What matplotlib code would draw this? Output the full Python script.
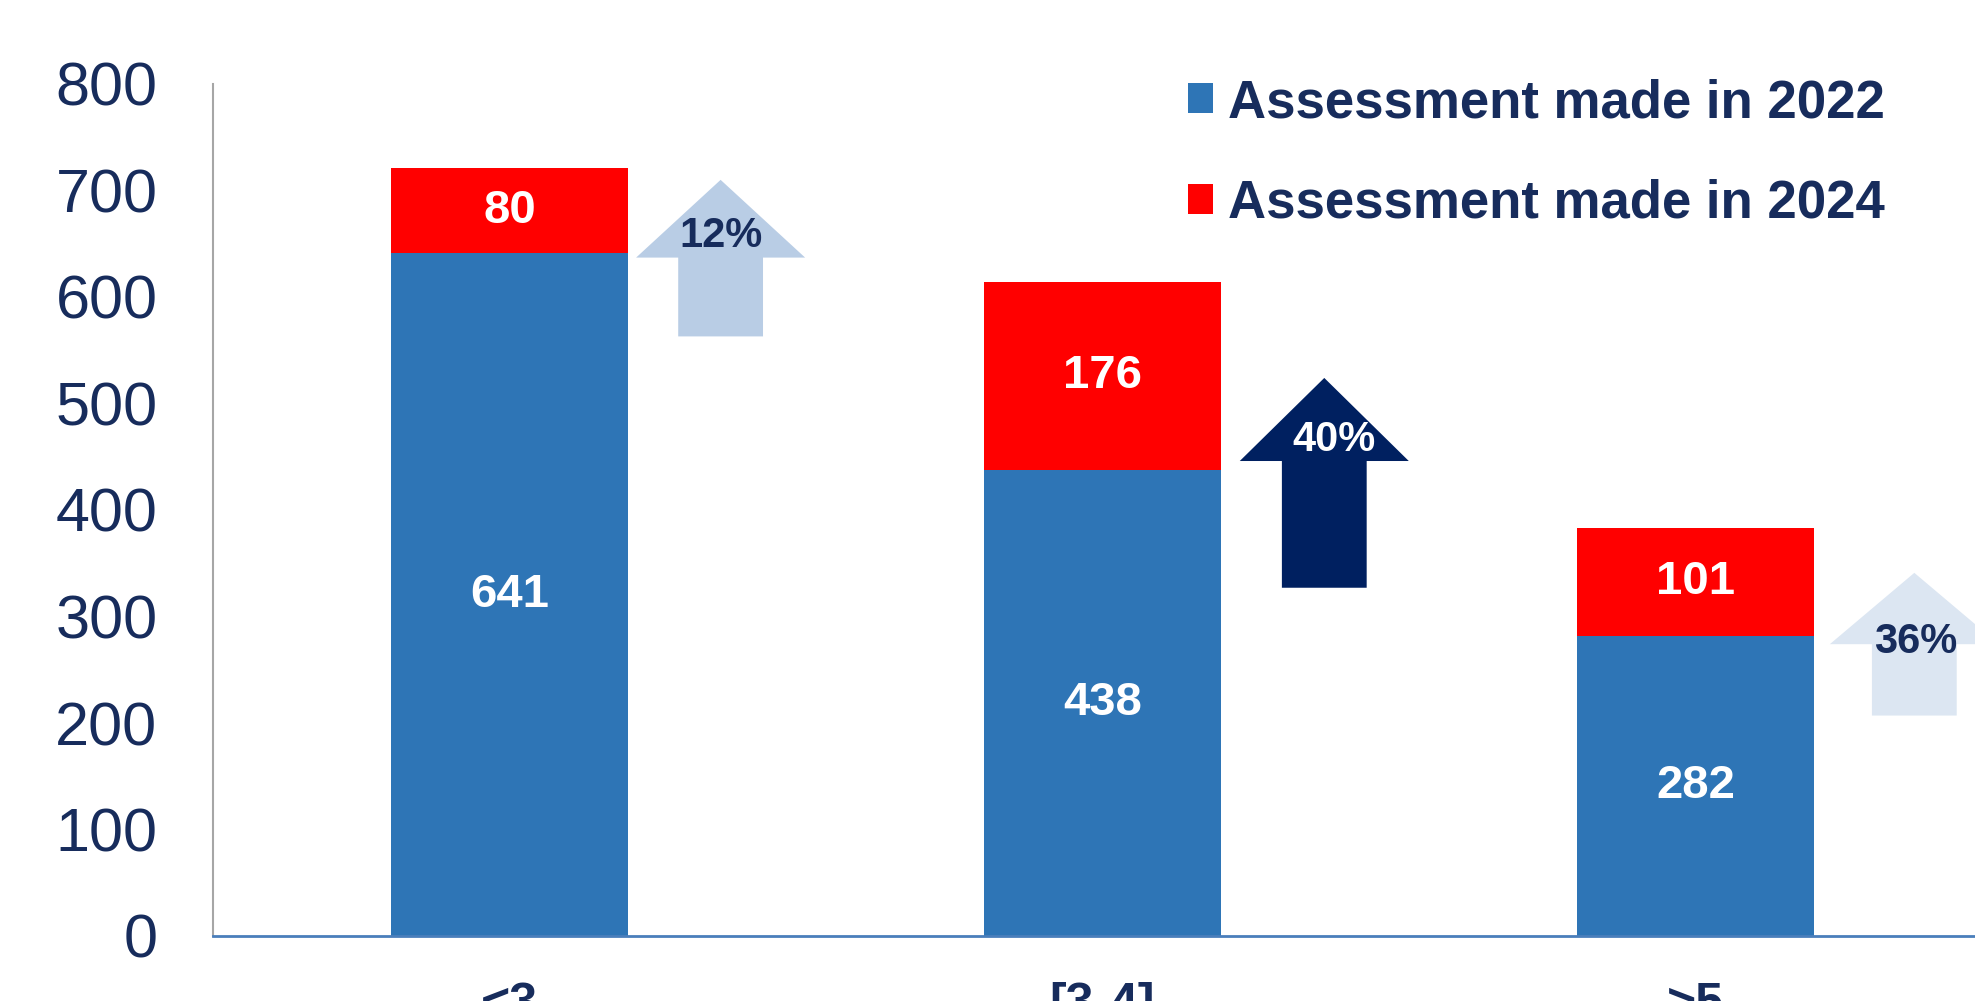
import matplotlib
matplotlib.use("Agg")
import matplotlib.pyplot as plt
from matplotlib.patches import FancyArrow, Patch

plt.rcParams['font.family'] = ['Liberation Sans', 'DejaVu Sans']

# ---- data ----
categories = ["<3", "[3-4]", ">5"]
values_2022 = [641, 438, 282]
values_2024 = [80, 176, 101]
series_names = ["Assessment made in 2022", "Assessment made in 2024"]
yticks = [0, 100, 200, 300, 400, 500, 600, 700, 800]

# ---- style ----
NAVY = "#172C5C"
BLUE = "#2E75B6"
RED = "#FF0000"
arrow_colors = ["#B9CDE5", "#002060", "#DCE6F2"]
arrow_text_colors = [NAVY, "white", NAVY]

# arrow layout (x offset from category, bottom, tip, text y)
arrow_dx = [0.356, 0.374, 0.369]
arrow_bottom = [563, 327, 207]
arrow_tip = [710, 524, 341]
arrow_headlen = [73, 78, 67]
arrow_text_y = [657, 466, 276]
arrow_text_dx = [0.356, 0.391, 0.371]

fig = plt.figure(figsize=(19.75, 10.01), dpi=100)
ax = fig.add_axes([213 / 1975, 1 - 936 / 1001, (1992 - 213) / 1975, (936 - 84) / 1001])

x = list(range(len(categories)))
ax.bar(x, values_2022, width=0.4, color=BLUE, label=series_names[0], zorder=2)
ax.bar(x, values_2024, width=0.4, bottom=values_2022, color=RED,
       label=series_names[1], zorder=2)

for i, (a, b) in enumerate(zip(values_2022, values_2024)):
    ax.text(i, a / 2, f"{a}", ha="center", va="center", color="white",
            fontsize=34, fontweight="bold", zorder=3)
    ax.text(i, a + b / 2, f"{b}", ha="center", va="center", color="white",
            fontsize=34, fontweight="bold", zorder=3)
    # growth arrows
    xa = i + arrow_dx[i]
    arr = FancyArrow(xa, arrow_bottom[i], 0, arrow_tip[i] - arrow_bottom[i],
                     width=0.143, head_width=0.285, head_length=arrow_headlen[i],
                     length_includes_head=True, color=arrow_colors[i], lw=0, zorder=2)
    ax.add_patch(arr)
    pct = round(100 * b / a)
    ax.text(i + arrow_text_dx[i], arrow_text_y[i], f"{pct}%", ha="center", va="center",
            color=arrow_text_colors[i], fontsize=30, fontweight="bold", zorder=3)

ax.set_xlim(-0.5, 2.5)
ax.set_ylim(0, 800)
ax.set_yticks(yticks)
ax.set_xticks(x)
ax.set_xticklabels(categories, fontsize=36, fontweight="bold", color=NAVY)
ax.tick_params(axis="y", length=0, pad=40, labelsize=44, labelcolor=NAVY)
ax.tick_params(axis="x", length=0, pad=33)

for s in ["top", "right"]:
    ax.spines[s].set_visible(False)
ax.spines["left"].set_color("#A6A6A6")
ax.spines["left"].set_linewidth(1.5)
ax.spines["bottom"].set_color("#4A7EBB")
ax.spines["bottom"].set_linewidth(2)

handles = [Patch(facecolor=BLUE), Patch(facecolor=RED)]
leg = ax.legend(handles, series_names, loc="upper left",
                bbox_to_anchor=(1188 / 1975, 1 - 78 / 1001), bbox_transform=fig.transFigure,
                frameon=False, prop={"weight": "bold", "size": 38},
                handlelength=0.47, handleheight=0.51, handletextpad=0.28,
                labelspacing=0.96, borderpad=0, borderaxespad=0)
for t in leg.get_texts():
    t.set_color(NAVY)

fig.savefig("out.png", dpi=100)
